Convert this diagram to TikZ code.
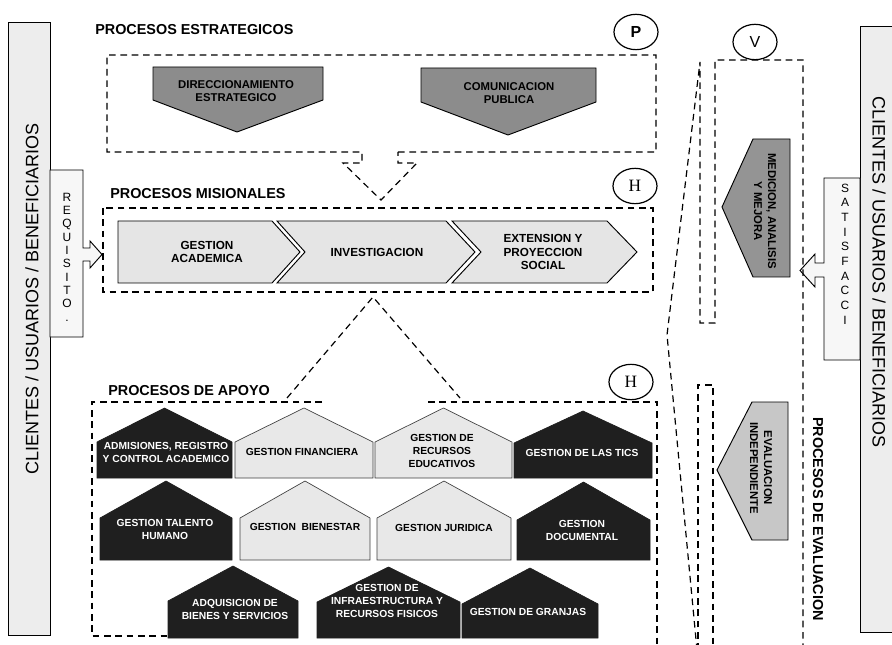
\documentclass[tikz,border=0pt]{standalone}
\usepackage{fontspec}
\setmainfont{Liberation Sans}
\newfontfamily\serifH{Liberation Serif}
\usetikzlibrary{shapes.geometric}
\definecolor{barfill}{gray}{0.93}
\definecolor{boxfill}{gray}{0.97}
\definecolor{chevfill}{gray}{0.90}
\definecolor{lightfill}{gray}{0.91}
\definecolor{darkfill}{gray}{0.12}
\definecolor{stratfill}{gray}{0.55}
\definecolor{medfill}{gray}{0.58}
\definecolor{evalfill}{gray}{0.78}
\tikzset{
  dline/.style={draw=black, line width=0.9pt, dash pattern=on 5pt off 3.5pt},
  outl/.style={draw=black, line width=0.7pt},
  lighthouse/.style={fill=lightfill, draw=black!75, line width=0.5pt},
  darkhouse/.style={fill=darkfill, draw=darkfill, line width=0.5pt},
  htext/.style={font=\bfseries\fontsize{7.7}{9.8}\selectfont, align=center, inner sep=0pt},
  dhtext/.style={htext, text=white},
  ttl/.style={font=\bfseries\fontsize{10.8}{13}\selectfont, anchor=west, inner sep=0pt},
  mtext/.style={font=\bfseries\fontsize{8.8}{10.3}\selectfont, align=center, inner sep=0pt},
  stext/.style={font=\bfseries\fontsize{8.5}{10}\selectfont, align=center, inner sep=0pt},
  vtext/.style={font=\bfseries\fontsize{8.5}{10.5}\selectfont, align=center, inner sep=0pt, rotate=-90},
  circ/.style={draw=black, line width=0.9pt, ellipse, minimum width=33pt, minimum height=26.5pt, inner sep=0pt, fill=white},
  bigtext/.style={font=\fontsize{13.5}{16}\selectfont, inner sep=0pt},
  stack/.style={font=\fontsize{9}{10}\selectfont, align=center, inner sep=0pt}
}
\newcommand\myhouse[6]{\path[#1] (#2,#6) -- (#2,#5) -- ({(#2+#3)/2},#4) -- (#3,#5) -- (#3,#6) -- cycle;}
\begin{document}
\begin{tikzpicture}[x=0.75pt,y=-0.75pt]
\useasboundingbox (0,0) rectangle (892,645);
\fill[white] (0,0) rectangle (892,645);

% ---- client bars ----
\path[outl, fill=barfill] (8,22) rectangle (50,635);
\node[bigtext, rotate=90] (clientsL) at (32,299) {CLIENTES / USUARIOS / BENEFICIARIOS};
\path[outl, fill=barfill] (860,26) rectangle (905,632);
\node[bigtext, rotate=-90] (clientsR) at (879,272) {CLIENTES / USUARIOS / BENEFICIARIOS};

% REQUISITO box with arrow
\path[outl, fill=boxfill] (50,170) -- (83,170) -- (83,248) -- (90,248) -- (90,241) -- (102,254.5) -- (90,268) -- (90,261) -- (83,261) -- (83,337) -- (50,337) -- cycle;
\node[stack] (req) at (67,257) {R\\E\\Q\\U\\I\\S\\I\\T\\O\\.};

% SATISFACCI box with arrow
\path[outl, fill=boxfill] (860,178) -- (824,178) -- (824,263) -- (815,263) -- (815,254) -- (800,270.5) -- (815,287) -- (815,277) -- (824,277) -- (824,360) -- (860,360) -- cycle;
\node[stack, font=\fontsize{9}{11}\selectfont] (sat) at (845,254) {S\\A\\T\\I\\S\\F\\A\\C\\C\\I};

% ---- titles ----
\node[ttl] (tEst) at (95,30) {PROCESOS ESTRATEGICOS};
\node[ttl] (tMis) at (110,194) {PROCESOS MISIONALES};
\node[ttl] (tApo) at (108,391) {PROCESOS DE APOYO};
\node[font=\bfseries\fontsize{10.8}{13}\selectfont, rotate=-90, inner sep=0pt] (tEva) at (818,519) {PROCESOS DE EVALUACION};

% ---- dashed regions ----
\draw[dline] (398,152) -- (656,152) -- (656,55) -- (107,55) -- (107,152) -- (362,152) -- (362,163) -- (343,163) -- (381,200) -- (417,163) -- (398,163) -- cycle;
\draw[dline] (103,208) rectangle (653,292);
\draw[dline] (322,402) -- (92,402) -- (92,636) -- (170,636);
\draw[dline] (428,402) -- (657,402) -- (657,650);
\draw[dline] (287,398) -- (373,297) -- (460,398);
\draw[dline] (803,650) -- (803,60) -- (715,60) -- (715,323) -- (700,323) -- (700,62) -- (667,335) -- (697,650);
\draw[dline] (698,650) -- (698,385) -- (713,385) -- (713,650);

% ---- circles ----
\node[circ, font=\bfseries\fontsize{12}{14}\selectfont] (cP) at (636,32) {P};
\node[circ, font=\serifH\fontsize{13}{15}\selectfont] (cH1) at (635,186) {H};
\node[circ, font=\serifH\fontsize{13}{15}\selectfont] (cH2) at (631,382) {H};
\node[circ, font=\fontsize{12}{14}\selectfont] (cV) at (755,42) {V};

% ---- strategic shapes ----
\path[outl, fill=stratfill] (153,67) -- (323,67) -- (323,100) -- (237,132) -- (153,100) -- cycle;
\node[stext] (dir) at (236,91) {DIRECCIONAMIENTO\\ESTRATEGICO};
\path[outl, fill=stratfill] (421,68) -- (596,68) -- (596,102) -- (508,135) -- (421,102) -- cycle;
\node[stext] (com) at (509,93) {COMUNICACION\\PUBLICA};

% ---- misional chevrons ----
\path[outl, fill=chevfill] (118,221) -- (272,221) -- (300,252) -- (272,283) -- (118,283) -- cycle;
\path[outl, fill=chevfill] (277,221) -- (446,221) -- (475,252) -- (446,283) -- (277,283) -- (305,252) -- cycle;
\path[outl, fill=chevfill] (452,221) -- (607,221) -- (637,252) -- (607,283) -- (452,283) -- (481,252) -- cycle;
\node[mtext] (ga) at (207,252) {GESTION\\ACADEMICA};
\node[mtext] (inv) at (377,252) {INVESTIGACION};
\node[mtext] (ext) at (543,252) {EXTENSION Y\\PROYECCION\\SOCIAL};

% ---- evaluation shapes ----
\path[outl, fill=medfill] (722,207) -- (753,139) -- (790,139) -- (790,277) -- (753,277) -- cycle;
\node[vtext] (med) at (765,211) {MEDICION, ANALISIS\\Y MEJORA};
\path[outl, fill=evalfill] (717,470) -- (752,402) -- (788,402) -- (788,540) -- (752,540) -- cycle;
\node[vtext] (eva) at (761,468) {EVALUACION\\INDEPENDIENTE};

% ---- support houses ----
\myhouse{darkhouse}{97}{232}{408}{442}{478}
\myhouse{lighthouse}{235}{373}{408}{442}{478}
\myhouse{lighthouse}{375}{512}{408}{442}{478}
\myhouse{darkhouse}{514}{652}{411}{443}{478}
\myhouse{darkhouse}{100}{232}{481}{518}{560}
\myhouse{lighthouse}{240}{370}{481}{518}{560}
\myhouse{lighthouse}{377}{511}{481}{518}{560}
\myhouse{darkhouse}{517}{650}{482}{520}{560}
\myhouse{darkhouse}{168}{298}{566}{601}{638}
\myhouse{darkhouse}{317}{460}{567}{602}{638}
\myhouse{darkhouse}{462}{598}{568}{604}{638}

\node[dhtext] (adm) at (166,452) {ADMISIONES, REGISTRO\\Y CONTROL ACADEMICO};
\node[htext] (fin) at (302,452) {GESTION FINANCIERA};
\node[htext] (rec) at (442,451) {GESTION DE\\RECURSOS\\EDUCATIVOS};
\node[dhtext] (tic) at (582,453) {GESTION DE LAS TICS};
\node[dhtext] (tal) at (165,529) {GESTION TALENTO\\HUMANO};
\node[htext] (bie) at (305,527) {GESTION\ \ BIENESTAR};
\node[htext] (jur) at (444,528) {GESTION JURIDICA};
\node[dhtext] (doc) at (582,530) {GESTION\\DOCUMENTAL};
\node[dhtext] (adq) at (235,609) {ADQUISICION DE\\BIENES Y SERVICIOS};
\node[dhtext] (inf) at (387,601) {GESTION DE\\INFRAESTRUCTURA Y\\RECURSOS FISICOS};
\node[dhtext] (gra) at (528,612) {GESTION DE GRANJAS};
\end{tikzpicture}
\end{document}
